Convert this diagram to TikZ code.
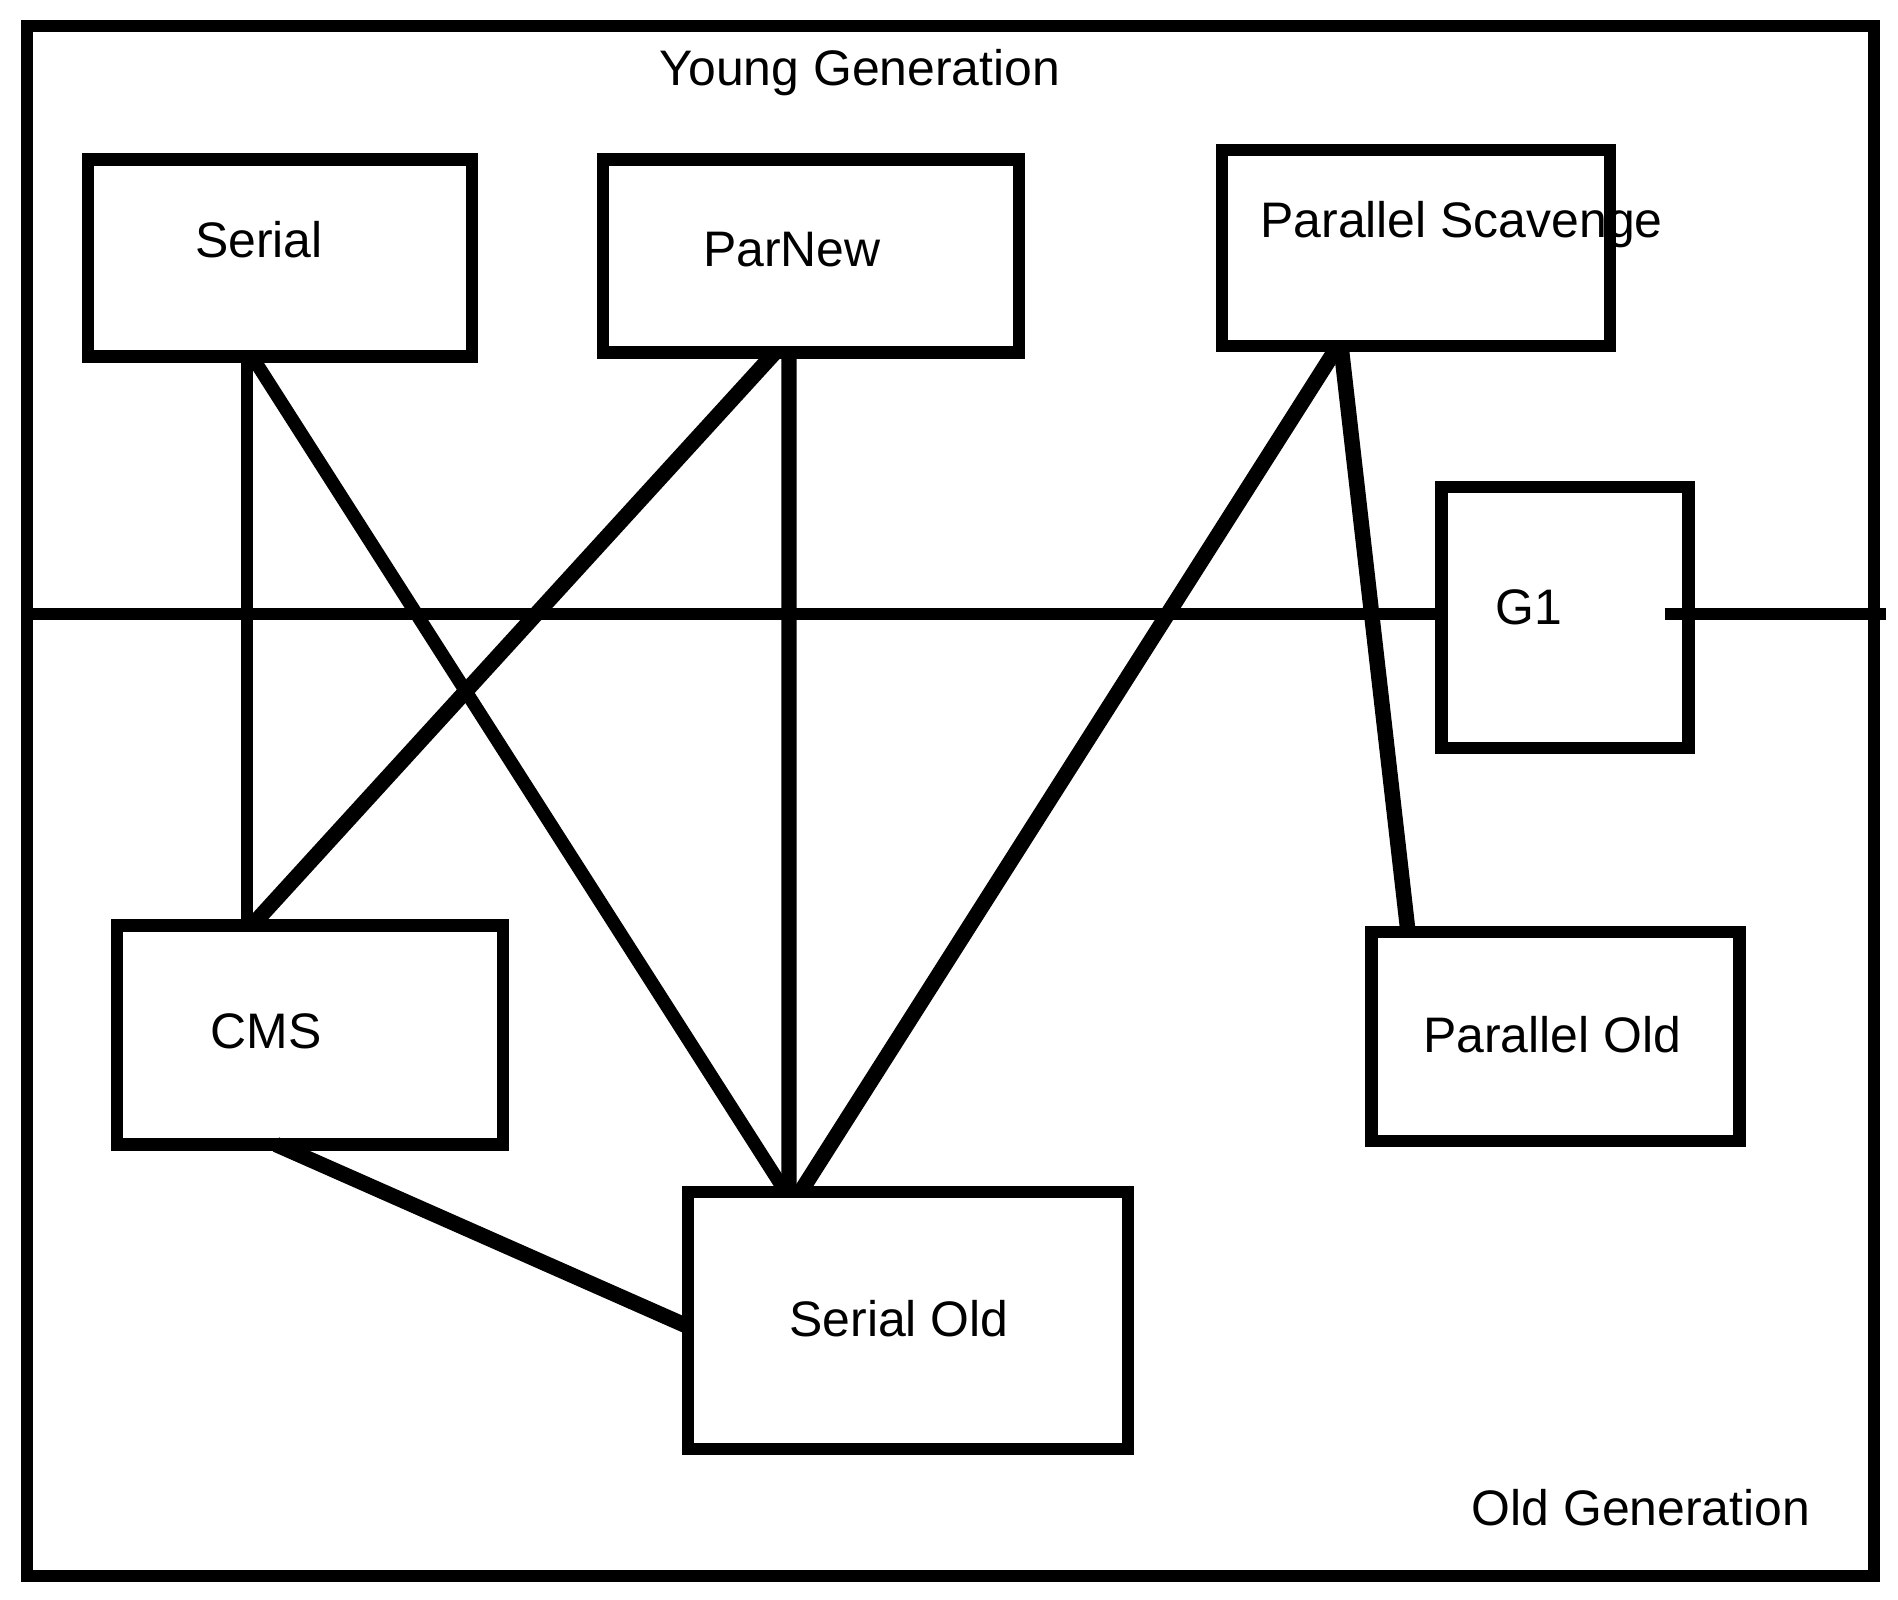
\documentclass[tikz,border=0pt]{standalone}
\usepackage{fontspec}
\setmainfont{Liberation Sans}
\usepackage{tikz}

\begin{document}
\begin{tikzpicture}[
    gcbox/.style={draw, line width=3.5pt, inner sep=0pt, outer sep=0pt},
    gclabel/.style={anchor=base, inner sep=0pt, font=\fontsize{14.2}{17}\selectfont},
    thinlink/.style={line width=3.4pt},
    thicklink/.style={line width=4.4pt}
  ]
    \useasboundingbox (0,0) rectangle (18.98,16);

    % Heap frame
    \draw[line width=3.5pt] (0.27,0.24) rectangle (18.74,15.74);

    % Generation captions
    \node[gclabel] (younglbl) at (8.60,15.14) {Young Generation};
    \node[gclabel] (oldlbl) at (16.41,0.74) {Old Generation};

    % Collector names (placed before the boxes, so borders sit on top)
    \node[gclabel] (seriallbl) at (2.59,13.42) {Serial};
    \node[gclabel] (parnewlbl) at (7.92,13.33) {ParNew};
    \node[gclabel] (pslbl) at (14.615,13.62) {Parallel Scavenge};
    \node[gclabel] (g1lbl) at (15.29,9.75) {G1};
    \node[gclabel] (cmslbl) at (2.66,5.51) {CMS};
    \node[gclabel] (serialoldlbl) at (8.99,2.63) {Serial Old};
    \node[gclabel] (paroldlbl) at (15.52,5.47) {Parallel Old};

    % Young collectors
    \node[gcbox, minimum width=3.84cm, minimum height=1.97cm] (serial) at (2.80,13.42) {};
    \node[gcbox, minimum width=4.16cm, minimum height=1.93cm] (parnew) at (8.11,13.44) {};
    \node[gcbox, minimum width=3.88cm, minimum height=1.96cm] (ps) at (14.16,13.52) {};

    % Both generations
    \node[gcbox, minimum width=2.47cm, minimum height=2.61cm] (g1) at (15.65,9.825) {};

    % Old collectors
    \node[gcbox, minimum width=3.865cm, minimum height=2.19cm] (cms) at (3.10,5.65) {};
    \node[gcbox, minimum width=4.40cm, minimum height=2.57cm] (serialold) at (9.08,2.795) {};
    \node[gcbox, minimum width=3.68cm, minimum height=2.09cm] (parold) at (15.555,5.635) {};

    % Young / old split
    \coordinate (splitL) at (0.27,9.86);
    \coordinate (splitR) at (18.86,9.86);
    \draw[thinlink] (splitL) -- (splitL -| g1.west);
    \draw[thinlink] (splitL -| g1.east) ++(-0.24,0) -- (splitR);

    % Pairings
    \draw[thinlink] ([xshift=-0.33cm]serial.south) -- ([xshift=-0.63cm]cms.north);
    \draw[line width=3.8pt] ([xshift=-0.28cm]serial.south) -- ([xshift=-1.225cm]serialold.north);
    \draw[thicklink] ([xshift=-0.36cm]parnew.south) -- ([xshift=-0.58cm]cms.north);
    \draw[thicklink] ([xshift=-0.22cm]parnew.south) -- ([xshift=-1.19cm]serialold.north);
    \draw[thicklink] ([xshift=-0.78cm]ps.south) -- ([xshift=-1.075cm]serialold.north);
    \draw[thicklink] ([xshift=-0.75cm]ps.south) -- ([xshift=-1.475cm]parold.north);
    \draw[thicklink] ([xshift=-0.34cm]cms.south) -- ([yshift=-0.06cm]serialold.west);
\end{tikzpicture}
\end{document}
